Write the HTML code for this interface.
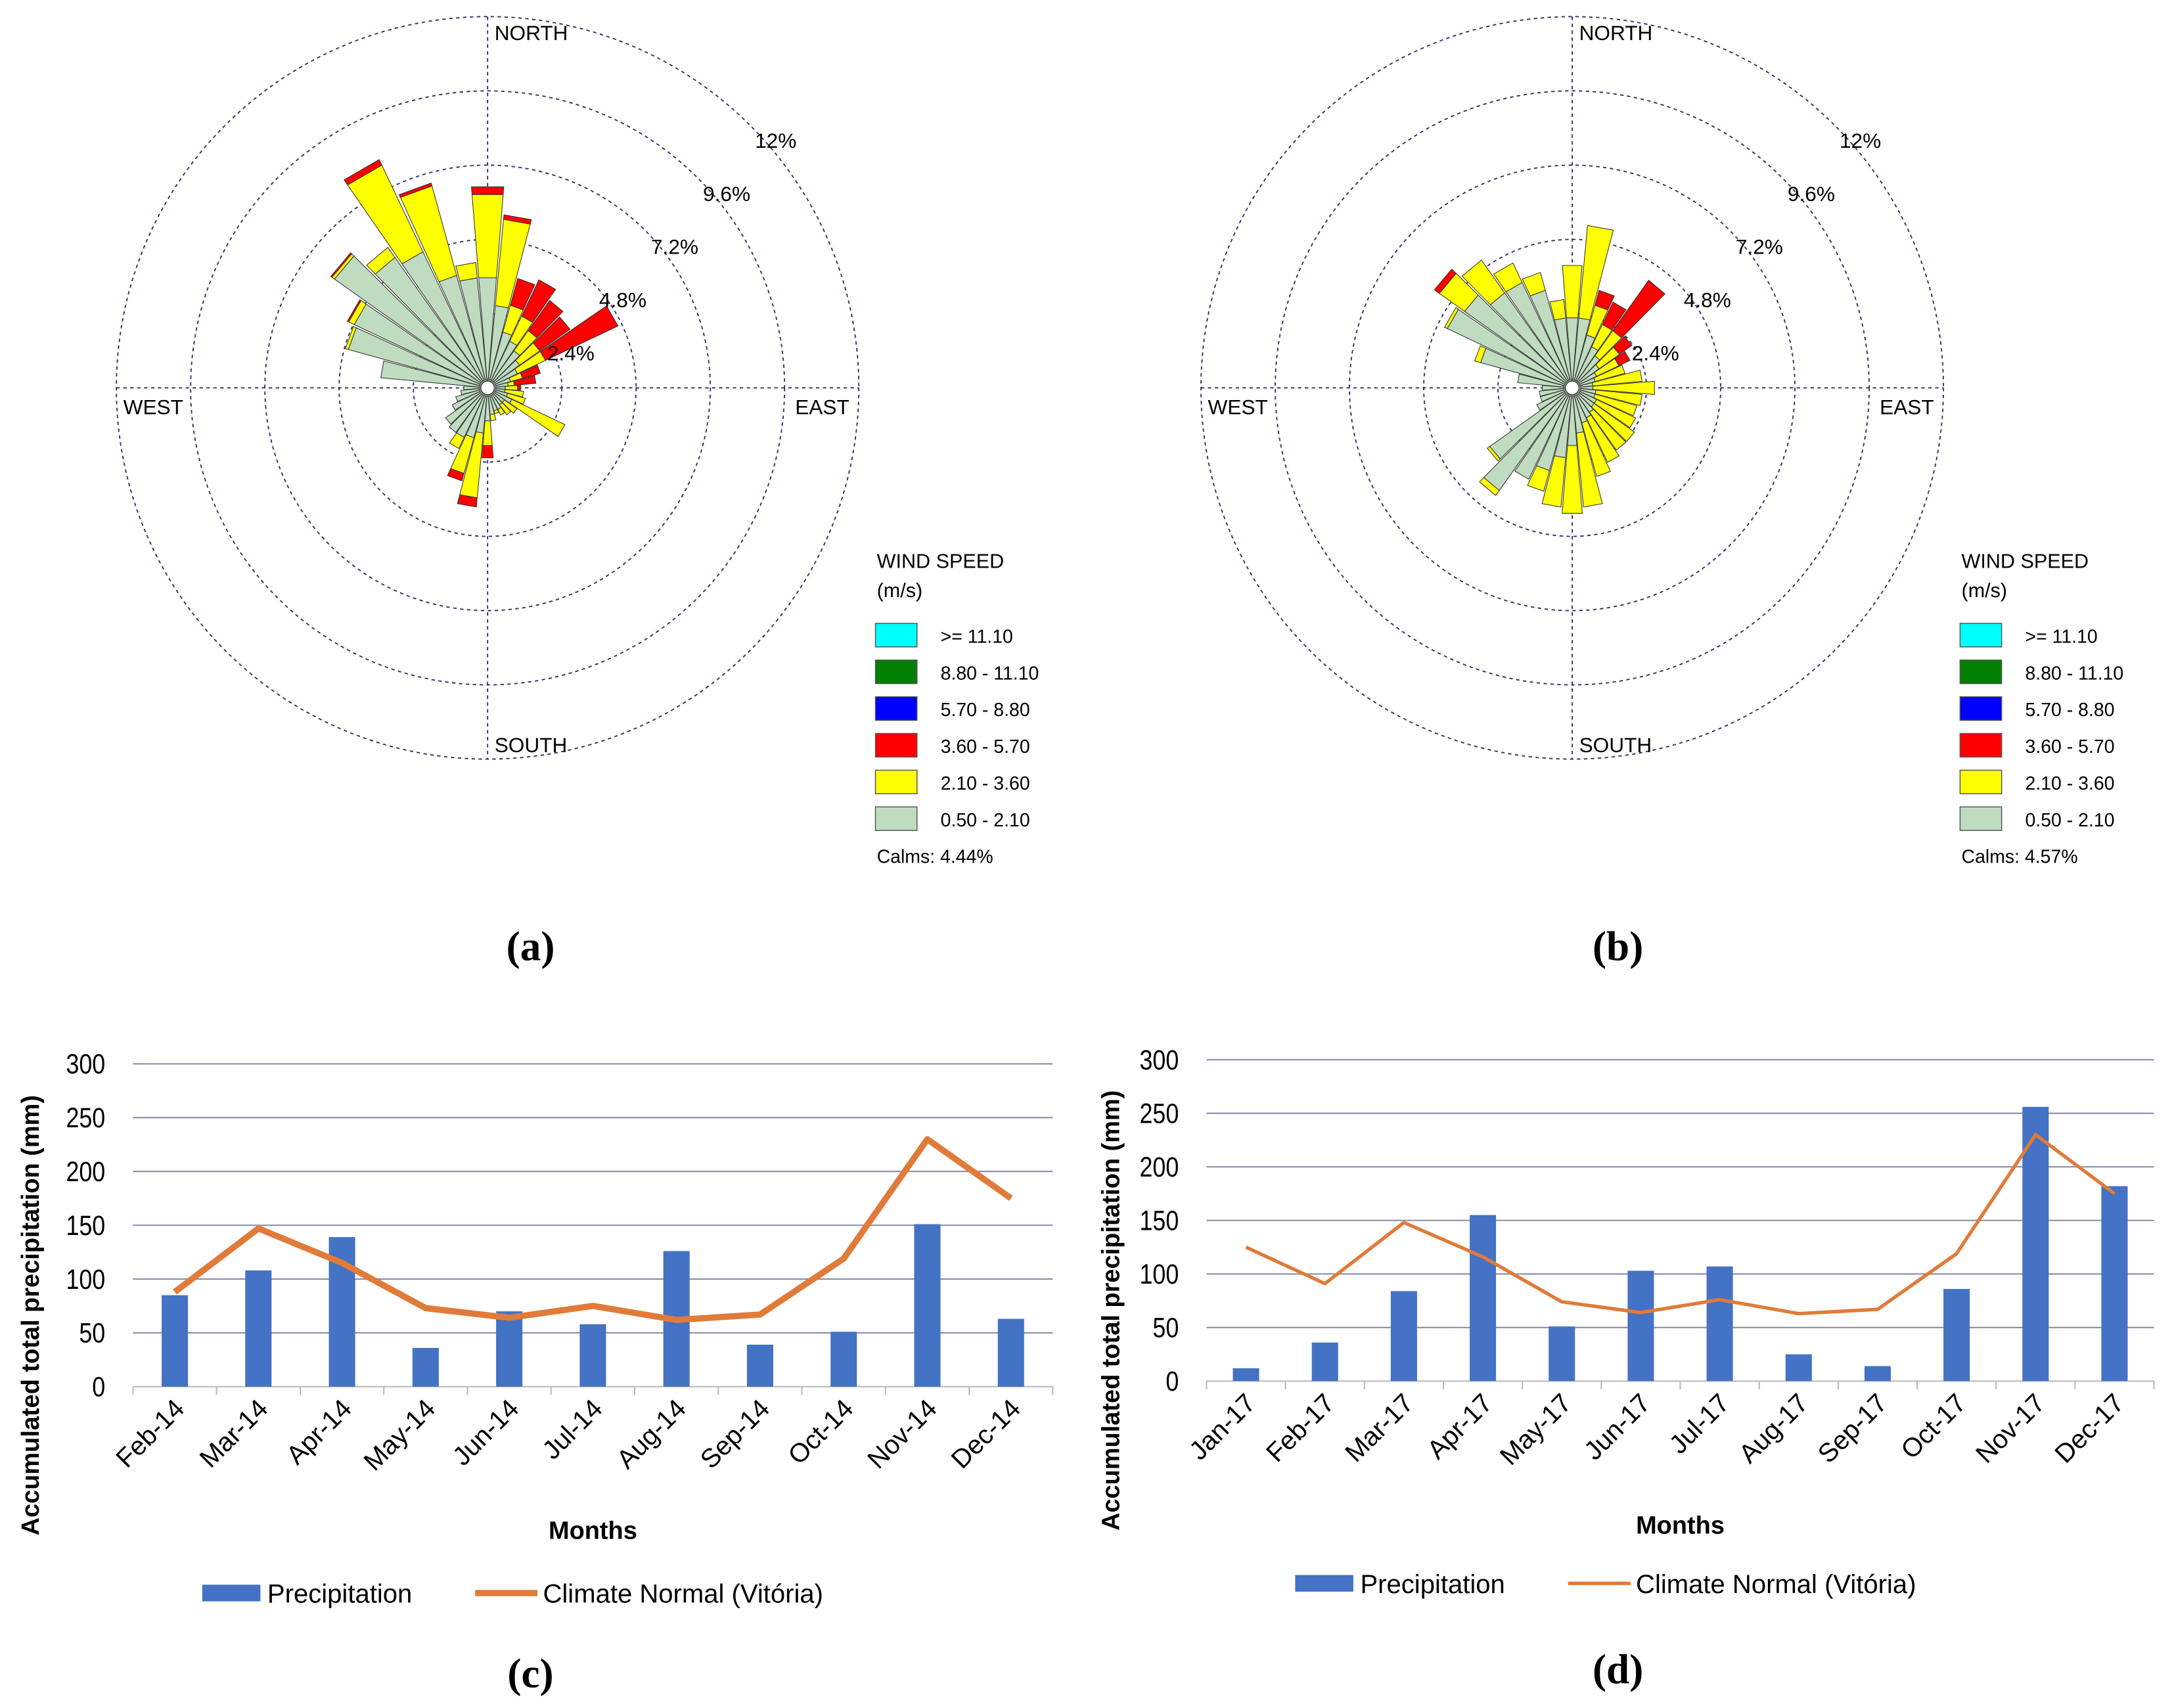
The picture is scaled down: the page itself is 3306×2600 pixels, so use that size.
<!DOCTYPE html>
<html><head><meta charset="utf-8"><style>
html,body{margin:0;padding:0;background:#fff;}
svg{display:block;font-family:"Liberation Sans",sans-serif;}
</style></head><body>
<svg id="root" width="3306" height="2600" viewBox="0 0 1568 1233" preserveAspectRatio="none" xmlns="http://www.w3.org/2000/svg">
<g id="roseA"></g>
<g id="roseB"></g>
<g id="chartC"></g>
<g id="chartD"></g>
<text x="383" y="693" font-family="Liberation Serif,serif" font-size="30" font-weight="bold" text-anchor="middle">(a)</text>
<text x="1168" y="693" font-family="Liberation Serif,serif" font-size="30" font-weight="bold" text-anchor="middle">(b)</text>
<text x="383" y="1218" font-family="Liberation Serif,serif" font-size="30" font-weight="bold" text-anchor="middle">(c)</text>
<text x="1168" y="1215" font-family="Liberation Serif,serif" font-size="30" font-weight="bold" text-anchor="middle">(d)</text>
</svg>
<script>
const dirsDeg = [0,10,20,30,40,50,60,70,80,90,100,110,120,130,140,150,160,170,180,190,200,210,220,230,240,250,260,270,280,290,300,310,320,330,340,350];
const roseAGreen = [3.3,2.4,1.6,1.4,1.2,1.0,0.8,0.5,0.4,0.3,0.3,0.4,0.6,0.4,0.4,0.5,0.5,0.6,0.8,1.2,1.4,1.5,1.5,1.4,1.0,0.8,0.6,0.5,3.2,4.4,4.5,5.8,4.9,4.6,3.5,3.3];
const roseAYellow = [6.0,5.2,2.5,2.3,2.0,1.8,1.8,0.9,0.6,0.7,0.9,1.0,2.5,0.9,0.8,0.7,0.6,0.8,1.6,3.3,2.6,1.9,1.5,1.4,1.0,0.8,0.6,0.5,3.2,4.5,4.7,5.9,5.3,7.7,6.5,3.8];
const roseARed = [6.25,5.35,3.4,3.6,3.2,3.0,4.4,1.5,1.3,0.8,0.9,1.0,2.5,0.9,0.8,0.7,0.6,0.8,2.0,3.6,2.85,1.9,1.5,1.4,1.0,0.8,0.6,0.5,3.2,4.5,4.75,5.95,5.3,7.9,6.6,3.8];
const roseBGreen = [2.0,2.0,1.5,1.2,1.0,0.8,0.6,0.5,0.4,0.4,0.5,0.5,0.6,0.6,0.7,0.8,0.9,1.2,1.6,2.0,2.5,3.0,3.8,3.0,1.0,0.8,0.8,0.7,1.5,2.8,4.2,4.0,3.5,3.5,3.0,2.0];
const roseBYellow = [3.7,5.0,2.5,2.0,2.0,1.6,1.4,1.5,2.0,2.4,2.0,1.9,2.0,2.2,2.2,2.4,2.7,3.6,3.8,3.6,3.2,3.0,4.0,3.1,1.0,0.8,0.8,0.7,1.5,3.0,4.3,5.0,4.8,4.2,3.6,2.6];
const roseBRed = [3.7,5.0,3.0,2.8,4.0,2.1,1.8,1.5,2.0,2.4,2.0,1.9,2.0,2.2,2.2,2.4,2.7,3.6,3.8,3.6,3.2,3.0,4.0,3.1,1.0,0.8,0.8,0.7,1.5,3.0,4.3,5.2,4.8,4.2,3.6,2.6];
const ringLabels = ["2.4%","4.8%","7.2%","9.6%","12%"];
const legendLabels = [">= 11.10","8.80 - 11.10","5.70 - 8.80","3.60 - 5.70","2.10 - 3.60","0.50 - 2.10"];
const legendColors = ["#00ffff","#007f00","#0000ff","#ff0000","#ffff00","#c0dcc0"];

const monthsC = ["Feb-14","Mar-14","Apr-14","May-14","Jun-14","Jul-14","Aug-14","Sep-14","Oct-14","Nov-14","Dec-14"];
const precipC = [85,108,139,36,70,58,126,39,51,151,63];
const normalC = [88,147,115,73,64,75,62,67,119,230,175];
const monthsD = ["Jan-17","Feb-17","Mar-17","Apr-17","May-17","Jun-17","Jul-17","Aug-17","Sep-17","Oct-17","Nov-17","Dec-17"];
const precipD = [12,36,84,155,51,103,107,25,14,86,256,182];
const normalD = [125,91,148,116,74,64,76,63,67,119,230,175];
const yTicks = [0,50,100,150,200,250,300];

const NS="http://www.w3.org/2000/svg";
function mk(parent,tag,attrs,txt){const e=document.createElementNS(NS,tag);for(const k in attrs)e.setAttribute(k,attrs[k]);if(txt!==undefined)e.textContent=txt;parent.appendChild(e);return e;}

function drawRose(g,cx,cy,green,yellow,red,calms){
  const R=268, pxPer=R/12;
  for(let i=1;i<=5;i++){
    const c=mk(g,'circle',{cx:cx,cy:cy,r:i*R/5,fill:'none',stroke:'#333366','stroke-width':0.9,'stroke-dasharray':'2.5,2.5'});
    
    
  }
  const ax=mk(g,'path',{d:`M${cx},${cy-R}V${cy+R}M${cx-R},${cy}H${cx+R}`,stroke:'#333366','stroke-width':0.9,'stroke-dasharray':'2.5,2.5',fill:'none'});
  
  
  function wedge(a,r0,r1,col,name){
    const h=4.6*Math.PI/180, t=a*Math.PI/180;
    const p=(r,tt)=>[cx+r*Math.sin(tt),cy-r*Math.cos(tt)];
    const q0=p(r0,t-h),q1=p(r1,t-h),q2=p(r1,t+h),q3=p(r0,t+h);
    const e=mk(g,'path',{d:`M${q0}L${q1}L${q2}L${q3}Z`,fill:col,stroke:'#333','stroke-width':0.5});
    
    
  }
  const r0=6;
  dirsDeg.forEach((a,i)=>{
    const gr=r0+green[i]*pxPer, yr=r0+yellow[i]*pxPer, rr=r0+red[i]*pxPer;
    if(rr>yr+0.3) wedge(a,yr,rr,'#ff0000','bar-red-'+a);
    if(yr>gr+0.3) wedge(a,gr,yr,'#ffff00','bar-yellow-'+a);
    wedge(a,r0,gr,'#c0dcc0','bar-green-'+a);
  });
  const cc=mk(g,'circle',{cx:cx,cy:cy,r:5,fill:'#fff',stroke:'#333','stroke-width':0.8});
  
  
  ringLabels.forEach((s,i)=>{
    const t=mk(g,'text',{x:cx+43+i*37.5,y:cy-20-i*38.3,'font-size':15},s);
    
    
  });
  const dl=[["NORTH",cx+5,29],["WEST",cx-263,cy+19],["EAST",cx+222,cy+19],["SOUTH",cx+5,cy+263]];
  dl.forEach(d=>{const t=mk(g,'text',{x:d[1],y:d[2],'font-size':15},d[0]);
    
    });
  const lx=cx+280;
  let t=mk(g,'text',{x:lx+1,y:410,'font-size':14.5},'WIND SPEED');
  
  
  t=mk(g,'text',{x:lx+1,y:431,'font-size':14.5},'(m/s)');
  
  
  legendLabels.forEach((s,i)=>{
    const y=450+i*26.5;
    const b=mk(g,'rect',{x:lx,y:y,width:30,height:17,fill:legendColors[i],stroke:'#555','stroke-width':0.7});
    
    
    const tt=mk(g,'text',{x:lx+47,y:y+14,'font-size':13.5},s);
    
    
  });
  t=mk(g,'text',{x:lx+1,y:623,'font-size':13.5},'Calms: '+calms);
  
  
}
drawRose(document.getElementById('roseA'),352,280,roseAGreen,roseAYellow,roseARed,'4.44%');
drawRose(document.getElementById('roseB'),1135,280,roseBGreen,roseBYellow,roseBRed,'4.57%');

function drawChart(g,x0,x1,yb,yt,months,precip,normal,lw,ytitleX,legY,legX){
  const n=months.length, bw=(x1-x0)/n;
  const ys=v=>yb-(v/300)*(yb-yt);
  const xs=i=>x0+bw*(i+0.5);
  yTicks.forEach(v=>{
    if(v>0){const l=mk(g,'line',{x1:x0,x2:x1,y1:ys(v),y2:ys(v),stroke:'#8c8ca8','stroke-width':1});
      
      }
    const t=mk(g,'text',{x:x0-20,y:ys(v)+7,'font-size':20,'text-anchor':'end',transform:`translate(${x0-20},0) scale(0.85,1) translate(${-(x0-20)},0)`},String(v));
    
    
  });
  const ax=mk(g,'line',{x1:x0,x2:x1,y1:yb,y2:yb,stroke:'#bbb','stroke-width':1});
  
  
  for(let i=0;i<=n;i++){const tk=mk(g,'line',{x1:x0+bw*i,x2:x0+bw*i,y1:yb,y2:yb+6,stroke:'#bbb','stroke-width':1});
    
    }
  precip.forEach((v,i)=>{
    const r=mk(g,'rect',{x:xs(i)-9.5,y:ys(v),width:19,height:yb-ys(v),fill:'#4472c4'});
    
    
  });
  const pl=mk(g,'polyline',{points:normal.map((v,i)=>xs(i)+','+ys(v)).join(' '),fill:'none',stroke:'#e07b39','stroke-width':lw,'stroke-linejoin':'round'});
  
  
  months.forEach((m,i)=>{
    const x=xs(i)+8, y=yb+17;
    const t=mk(g,'text',{x:x,y:y,'font-size':19,'text-anchor':'end',transform:`rotate(-45 ${x} ${y})`},m);
    
    
  });
  let t=mk(g,'text',{x:(x0+x1)/2,y:yb+110,'font-size':18,'font-weight':'bold','text-anchor':'middle'},'Months');
  
  
  const cy=(yb+yt)/2+65;
  t=mk(g,'text',{x:ytitleX,y:cy,'font-size':18,'font-weight':'bold','text-anchor':'middle',transform:`rotate(-90 ${ytitleX} ${cy})`},'Accumulated total precipitation (mm)');
  
  
  const lb=mk(g,'rect',{x:legX,y:legY-6,width:42,height:12,fill:'#4472c4'});
  
  
  t=mk(g,'text',{x:legX+47,y:legY+7,'font-size':19},'Precipitation');
  
  
  const ll=mk(g,'line',{x1:legX+197,x2:legX+242,y1:legY,y2:legY,stroke:'#e07b39','stroke-width':lw});
  
  
  t=mk(g,'text',{x:legX+246,y:legY+7,'font-size':19},'Climate Normal (Vitória)');
  
  
}
drawChart(document.getElementById('chartC'),96,760,1001,768,monthsC,precipC,normalC,4.5,28,1150,146);
drawChart(document.getElementById('chartD'),871,1555,997,765,monthsD,precipD,normalD,2.5,808,1143,935);
</script>
</body></html>
